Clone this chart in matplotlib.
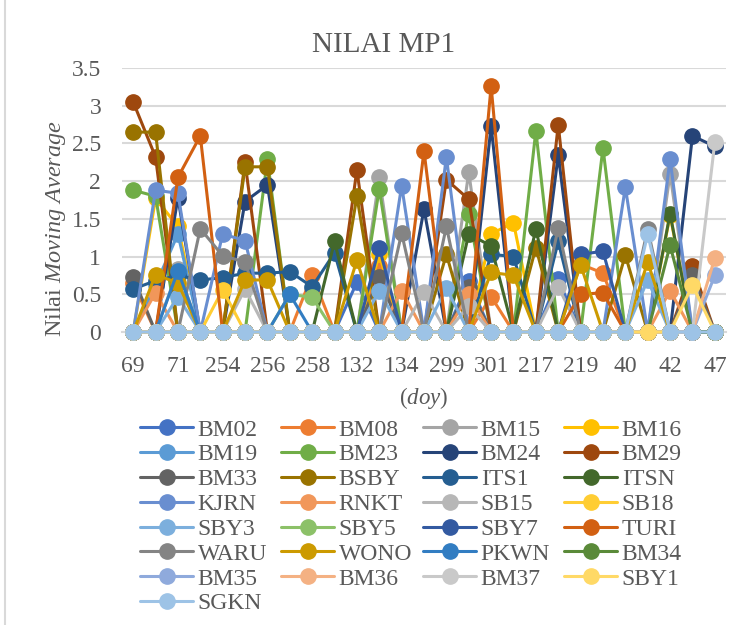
import matplotlib
matplotlib.use("Agg")
import matplotlib.pyplot as plt
from matplotlib.ticker import FuncFormatter

plt.rcParams['font.family'] = ['Liberation Serif', 'DejaVu Serif']
plt.rcParams['mathtext.fontset'] = 'custom'
plt.rcParams['mathtext.rm'] = 'Liberation Serif'
plt.rcParams['mathtext.it'] = 'Liberation Serif:italic'

# day-of-year categories on the x axis
doy = ['69', '70', '71', '72', '254', '255', '256', '257', '258',
       '131', '132', '133', '134', '298', '299', '300', '301', '216',
       '217', '218', '219', '39', '40', '41', '42', '46', '47']

# moving average values per station
bm02 = [0, 0, 0, 0, 0, 0, 0, 0, 0,
        0, 0.66, 0, 0, 0, 0, 0.68, 0, 0,
        0, 0.70, 0, 0, 0, 0, 0, 0, 0]
bm08 = [0.65, 0, 0, 0, 0, 0, 0, 0, 0.76,
        0, 0, 0.88, 0, 0, 0, 0, 0.47, 0,
        0, 0, 0.90, 0.78, 0, 0, 0, 0, 0]
bm15 = [0, 0, 0.83, 0, 0, 0, 0, 0, 0,
        0, 0, 2.05, 0, 0, 0, 2.12, 0, 0,
        0, 0, 0, 0, 0, 0, 2.10, 0, 0]
bm16 = [0, 1.77, 1.40, 0, 0, 0, 0, 0, 0,
        0, 0, 1.03, 0, 0, 0, 0, 1.30, 1.45,
        0, 0, 0, 0, 0, 0, 1.55, 0, 0]
bm19 = [0, 0.62, 1.30, 0, 0, 0, 0, 0, 0,
        0, 0, 0, 0, 0, 0, 0, 0, 0,
        0, 0, 0, 0, 0, 0, 0, 0, 0]
bm23 = [1.88, 1.80, 0, 0, 0, 0, 2.29, 0, 0,
        0, 0, 1.90, 0, 0, 0, 1.57, 0, 0,
        2.67, 0, 0, 2.44, 0, 0, 0, 0, 0]
bm24 = [0, 0, 1.78, 0, 0, 1.73, 1.95, 0, 0,
        0, 0, 0, 0, 1.63, 0, 0, 2.73, 0,
        0, 2.35, 0, 0, 0, 0, 0, 2.60, 2.46]
bm29 = [3.05, 2.32, 0, 0, 0, 2.25, 0, 0, 0,
        0, 2.15, 0, 0, 0, 2.02, 1.76, 0, 0,
        0, 2.75, 0, 0, 0, 0, 0, 0.87, 0]
bm33 = [0.73, 0, 0, 0, 0, 0, 0, 0, 0,
        0, 0, 0.73, 0, 0, 0, 0.60, 0, 0,
        0, 0, 0, 0, 0, 0, 0, 0.76, 0]
bsby = [2.65, 2.65, 0, 0, 0, 2.19, 2.19, 0, 0,
        0, 1.80, 0, 0, 0, 1.03, 0, 0, 0,
        1.12, 0, 0, 0, 1.02, 0, 0, 0, 0]
its1 = [0.57, 0.68, 0.75, 0.69, 0.72, 0.78, 0.78, 0.80, 0.60,
        1.05, 0, 0, 0, 0, 0, 0, 1.03, 1.00,
        0, 1.20, 0, 0, 0, 0, 0, 0, 0]
itsn = [0, 0, 0, 0, 0, 0, 0, 0, 0,
        1.20, 0, 0, 0, 0, 0, 1.30, 1.14, 0,
        1.37, 0, 0, 0, 0, 0, 1.57, 0, 0]
kjrn = [0, 1.88, 1.84, 0, 1.30, 1.21, 0, 0, 0,
        0, 0, 0, 1.94, 0, 2.32, 0, 0, 0,
        0, 0, 0, 0, 1.92, 0, 2.29, 0, 0]
rnkt = [0, 0.52, 0, 0, 0, 0, 0, 0, 0,
        0, 0, 0, 0.55, 0, 0, 0.50, 0, 0,
        0, 0, 0, 0, 0, 0, 0.55, 0, 0]
sb15 = [0, 0, 0, 0, 0, 0.57, 0, 0, 0,
        0, 0, 0, 0, 0.53, 0, 0.34, 0, 0,
        0, 0.60, 0, 0, 0, 0, 0, 0, 0]
sb18 = [0, 0, 0, 0, 0.56, 0, 0, 0, 0,
        0, 0, 0, 0, 0, 0, 0, 0, 0,
        0, 0, 0, 0, 0, 0, 0, 0, 0]
sby3 = [0, 0, 0.47, 0, 0, 0, 0, 0, 0,
        0, 0, 0.55, 0, 0, 0.58, 0, 0, 0,
        0, 0, 0, 0, 0, 0.69, 0, 0, 0]
sby5 = [0, 0, 0, 0, 0, 0, 0, 0.50, 0.46,
        0, 0, 0, 0, 0, 0, 0, 0, 0,
        0, 0, 0, 0, 0, 0, 0, 0, 0]
sby7 = [0, 0, 0, 0, 0, 0, 0, 0, 0,
        0, 0, 1.12, 0, 0, 0, 0, 0, 0,
        0, 0, 1.03, 1.07, 0, 0, 0, 0, 0]
turi = [0, 0, 2.05, 2.60, 0, 0, 0, 0, 0,
        0, 0, 0, 0, 2.40, 0, 0, 3.26, 0,
        0, 0, 0.50, 0.52, 0, 0, 0, 0, 0]
waru = [0, 0, 0, 1.37, 1.01, 0.93, 0, 0, 0,
        0, 0, 0, 1.31, 0, 1.40, 0, 0, 0,
        0, 1.38, 0, 0, 0, 1.37, 0, 0, 0]
wono = [0, 0.76, 0.65, 0, 0, 0.69, 0.69, 0, 0,
        0, 0.95, 0, 0, 0, 0, 0, 0.79, 0.75,
        0, 0, 0.89, 0, 0, 0.93, 0, 0, 0]
pkwn = [0, 0, 0.81, 0, 0, 0, 0, 0.50, 0,
        0, 0, 0, 0, 0, 0, 0, 0, 0,
        0, 0, 0, 0, 0, 0, 0, 0, 0]
bm34 = [0, 0, 0, 0, 0, 0, 0, 0, 0,
        0, 0, 0, 0, 0, 0, 0, 0, 0,
        0, 0, 0, 0, 0, 0, 1.15, 0, 0]
bm35 = [0, 0, 0, 0, 0, 0, 0, 0, 0,
        0, 0, 0, 0, 0, 0, 0, 0, 0,
        0, 0, 0, 0, 0, 0, 0, 0, 0.75]
bm36 = [0, 0, 0, 0, 0, 0, 0, 0, 0,
        0, 0, 0, 0, 0, 0, 0, 0, 0,
        0, 0, 0, 0, 0, 0, 0, 0, 0.98]
bm37 = [0, 0, 0, 0, 0, 0, 0, 0, 0,
        0, 0, 0, 0, 0, 0, 0, 0, 0,
        0, 0, 0, 0, 0, 0, 0, 0, 2.52]
sby1 = [0, 0, 0, 0, 0, 0, 0, 0, 0,
        0, 0, 0, 0, 0, 0, 0, 0, 0,
        0, 0, 0, 0, 0, 0, 0, 0.62, 0]
sgkn = [0, 0, 0, 0, 0, 0, 0, 0, 0,
        0, 0, 0, 0, 0, 0, 0, 0, 0,
        0, 0, 0, 0, 0, 1.30, 0, 0, 0]

stations = ['BM02', 'BM08', 'BM15', 'BM16', 'BM19', 'BM23', 'BM24', 'BM29',
            'BM33', 'BSBY', 'ITS1', 'ITSN', 'KJRN', 'RNKT', 'SB15', 'SB18',
            'SBY3', 'SBY5', 'SBY7', 'TURI', 'WARU', 'WONO', 'PKWN', 'BM34',
            'BM35', 'BM36', 'BM37', 'SBY1', 'SGKN']
values = [bm02, bm08, bm15, bm16, bm19, bm23, bm24, bm29,
          bm33, bsby, its1, itsn, kjrn, rnkt, sb15, sb18,
          sby3, sby5, sby7, turi, waru, wono, pkwn, bm34,
          bm35, bm36, bm37, sby1, sgkn]
colors = ['#4472C4', '#ED7D31', '#A5A5A5', '#FFC000', '#5B9BD5', '#70AD47',
          '#264478', '#9E480E', '#636363', '#997300', '#255E91', '#43682B',
          '#698ED0', '#F1975A', '#B7B7B7', '#FFCD33', '#7CAFDD', '#8CC168',
          '#335AA1', '#D26012', '#848484', '#CC9A00', '#327DC2', '#5A8A39',
          '#8FAADC', '#F4B183', '#C9C9C9', '#FFD966', '#9DC3E6']

text_col = '#595959'
grid_col = '#D9D9D9'

fig = plt.figure(figsize=(7.48, 6.25), dpi=100)
ax = fig.add_axes([0.1631, 0.4688, 0.8075, 0.4224])

x = list(range(len(doy)))
handles = []
for k, (name, vals, c) in enumerate(zip(stations, values, colors)):
    h, = ax.plot(x, vals, color=c, lw=2.2, marker='o', ms=11,
                 mfc=c, mec=c, label=name, clip_on=False, zorder=3 + k,
                 solid_joinstyle='round', solid_capstyle='round')
    handles.append(h)

ax.set_xlim(-0.5, len(doy) - 0.5)
ax.set_ylim(0, 3.5)
ax.set_yticks([0, 0.5, 1, 1.5, 2, 2.5, 3, 3.5])
ax.yaxis.set_major_formatter(FuncFormatter(lambda v, p: '%g' % v))
ax.set_xticks(x)
ax.set_xticklabels(doy)
for i, lab in enumerate(ax.get_xticklabels()):
    lab.set_visible(i % 2 == 0)

ax.grid(axis='y', color=grid_col, lw=1.5, zorder=0)
ax.set_axisbelow(True)
for s in ['left', 'right', 'top']:
    ax.spines[s].set_visible(False)
ax.spines['bottom'].set_color(grid_col)
ax.spines['bottom'].set_linewidth(1.5)
ax.tick_params(axis='both', length=0, colors=text_col, labelsize=17)
ax.tick_params(axis='y', pad=15)
ax.tick_params(axis='x', pad=17)

ax.set_ylabel('Nilai $\\mathit{Moving\\ Average}$', fontsize=17.5, color=text_col)
ax.yaxis.set_label_coords(-0.089, 0.39)
ax.set_xlabel('($\\mathit{doy}$)', fontsize=16.5, color=text_col)
ax.xaxis.set_label_coords(0.5, -0.20)

fig.text(0.513, 0.928, 'NILAI MP1', fontsize=21, color=text_col,
         ha='center', va='center')

# legend laid out row by row, four columns
col_x = [140, 281, 423, 564]
for c in range(4):
    col_handles = handles[c::4]
    leg = fig.legend(handles=col_handles, loc='upper left',
                     bbox_to_anchor=(col_x[c] / 748, 1 - 419 / 625),
                     frameon=False, fontsize=17, handlelength=2.25,
                     handletextpad=0.2, labelspacing=0.14, borderpad=0,
                     borderaxespad=0, labelcolor=text_col)
    for lh in leg.legend_handles:
        lh.set_markersize(11)

# chart frame edge on the left
fig.add_artist(plt.Line2D([5 / 748, 5 / 748], [0, 1], color=grid_col, lw=1.5))

fig.savefig('out.png', dpi=100)
